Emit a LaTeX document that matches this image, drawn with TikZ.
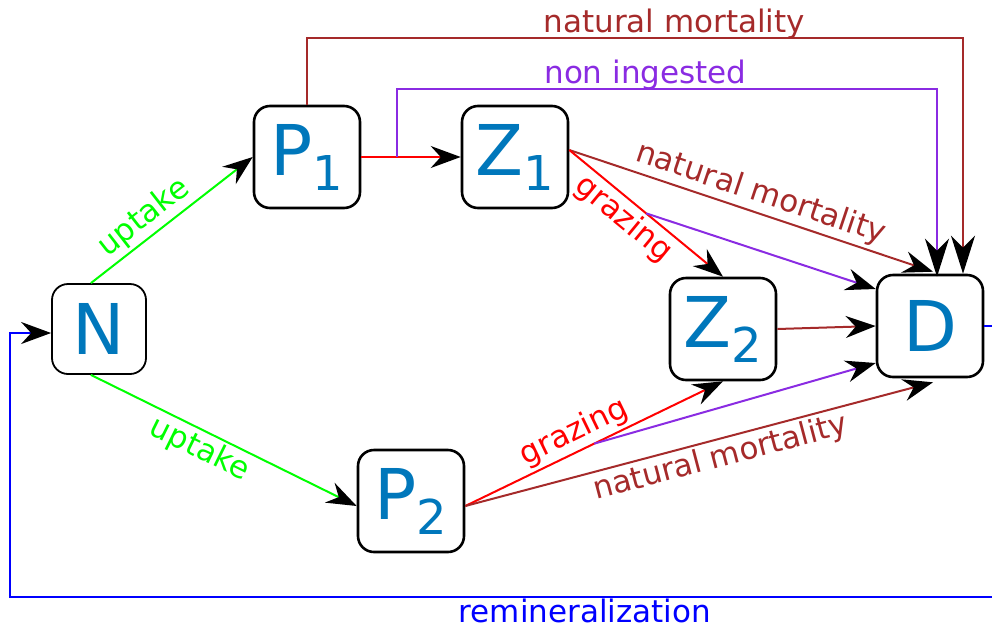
\documentclass[tikz,border=0pt]{standalone}
\usepackage{fontspec}
\setmainfont{DejaVu Sans}
\usetikzlibrary{arrows.meta, calc, positioning}
\definecolor{poolblue}{RGB}{0,119,187}
\definecolor{mortbrown}{RGB}{165,42,42}
\definecolor{ingpurple}{RGB}{138,43,226}
\definecolor{uptgreen}{RGB}{0,255,0}
\definecolor{grazred}{RGB}{255,0,0}
\definecolor{remblue}{RGB}{0,0,255}
\newcommand{\poolsub}[1]{\raisebox{-15pt}{\fontsize{48}{48}\selectfont #1}}
\tikzset{
  pool/.style={
    rectangle, rounded corners=16pt,
    minimum width=#1, minimum height=102pt,
    inner sep=0pt,
    draw, line width=2.6pt,
    font=\fontsize{70}{70}\selectfont, text=poolblue
  },
  pool/.default=106pt,
  flow/.style={line width=2pt, color=#1, -{Stealth[length=30pt,width=22pt,inset=10pt,color=black]}},
  bigflow/.style={flow=#1, -{Stealth[length=38pt,width=24pt,inset=12pt,color=black]}},
  flowlabel/.style={font=\fontsize{31}{31}\selectfont, inner sep=3pt},
}

\begin{document}
\begin{tikzpicture}[x=1pt, y=-1pt, on grid]
\useasboundingbox (0,0) rectangle (992,627);

%% ─── POOLS ──────────────────────────────────────────────────
\node[pool=94pt, minimum height=90pt, line width=1.8pt] (N) at (99,329) {N};
\node[pool, above right=172pt and 208pt of N] (P1) {P\poolsub{1}};
\node[pool, right=208pt of P1] (Z1) {Z\poolsub{1}};
\node[pool, below right=172pt and 208pt of Z1] (Z2) {Z\poolsub{2}};
\node[pool, right=207pt of Z2, yshift=3pt] (D) {D};
\node[pool, below right=172pt and 312pt of N] (P2) {P\poolsub{2}};

%% ─── UPTAKE ─────────────────────────────────────────────────
\draw[flow=uptgreen] (N.100) -- (P1.west)
  node[flowlabel, pos=0.4, above, sloped] {uptake};
\draw[flow=uptgreen] (N.260) -- ($(P2.west)+(0,5)$)
  node[flowlabel, pos=0.44, below, sloped] {uptake};

%% ─── P1 OUTFLOWS ────────────────────────────────────────────
\draw[flow=grazred] (P1.east) -- (Z1.west) coordinate[pos=0.36] (ni);
\draw[bigflow=ingpurple] (ni) -- ++(0,-68) -| ($(D.north)+(7,3)$)
  node[flowlabel, pos=0.23, above, yshift=-5pt] {non ingested};
\draw[bigflow=mortbrown] (P1.north) -- ++(0,-67) -| ($(D.north)+(33,0)$)
  node[flowlabel, pos=0.28, above, yshift=-5pt] {natural mortality};

%% ─── Z1 OUTFLOWS ────────────────────────────────────────────
\coordinate (z1out) at ($(Z1.east)+(0,-7)$);
\draw[flow=mortbrown] (z1out) -- ($(D.north)+(3,-2)$)
  node[flowlabel, pos=0.51, above, sloped] {natural mortality};
\draw[flow=grazred] (z1out) -- (Z2.north) coordinate[midway] (g1)
  node[flowlabel, pos=0.43, below, sloped] {grazing};
\draw[flow=ingpurple] (g1) -- ($(D.west)+(0,-37)$);
\draw[flow=mortbrown] (Z2.east) -- (D.west);

%% ─── P2 OUTFLOWS ────────────────────────────────────────────
\coordinate (p2out) at ($(P2.east)+(0,5)$);
\draw[flow=grazred] (p2out) -- (Z2.south) coordinate[midway] (g2)
  node[flowlabel, pos=0.455, above, sloped] {grazing};
\draw[flow=ingpurple] (g2) -- ($(D.west)+(0,37)$);
\draw[flow=mortbrown] (p2out) -- ($(D.south)+(3,4)$)
  node[flowlabel, pos=0.535, below, sloped] {natural mortality};

%% ─── REMINERALIZATION ───────────────────────────────────────
\draw[flow=remblue] (D.east) -- ++(17,0) |- (10,597)
  node[flowlabel, pos=0.71, below, inner sep=1pt] {remineralization}
  |- ($(N.west)+(0,4)$);

\end{tikzpicture}
\end{document}
